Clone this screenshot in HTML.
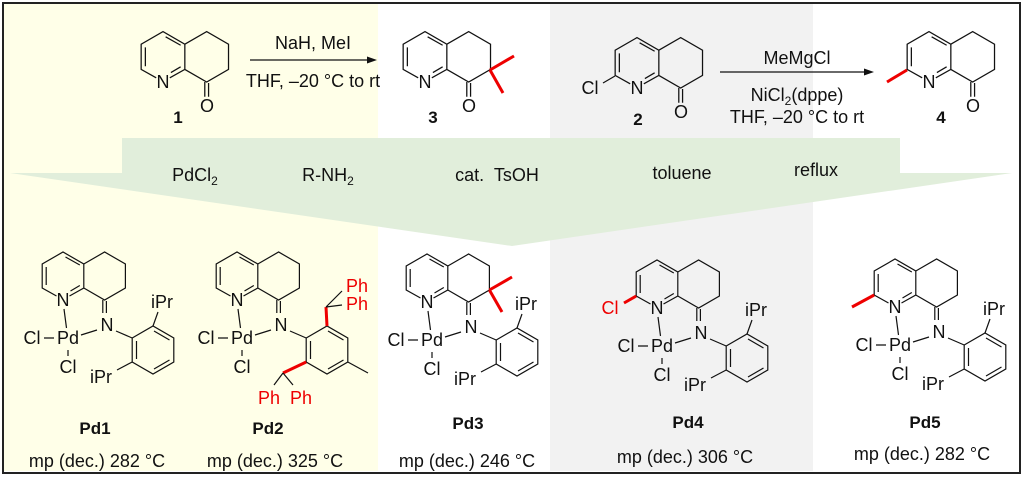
<!DOCTYPE html>
<html><head><meta charset="utf-8"><style>
html,body{margin:0;padding:0;background:#fff}
svg{display:block}
text{font-family:"Liberation Sans",Arial,sans-serif;font-size:18px;fill:#111}
.c{font-size:18px}
.b{font-weight:bold;font-size:17px}
.r{fill:#e00}
.m{text-anchor:middle}
</style></head><body>
<svg width="1024" height="479" viewBox="0 0 1024 479" xmlns="http://www.w3.org/2000/svg">
<defs>
<g id="bic" fill="none" stroke="#111" stroke-width="1.2">
<path d="M-6.5,-4 L-20.8,-12 L-20.8,-36 L0,-48 L20.8,-36 L20.8,-12 L6.5,-4"/>
<path d="M-16.8,-15 L-16.8,-33 M2.5,-43 L16.8,-35 M16.8,-14.5 L7.5,-9"/>
<path d="M20.8,-36 L41.6,-48 L62.4,-36 L62.4,-12 L41.6,0 L20.8,-12"/>
</g>
<g id="ko" fill="none" stroke="#111" stroke-width="1.2"><path d="M39.8,0 L39.8,14 M43.4,1 L43.4,14"/></g>
<g id="pdc" fill="none" stroke="#111" stroke-width="1.2">
<path d="M39.8,0 L39.8,13 M43.4,1 L43.4,13"/>
<path d="M1,9 L3.5,28 M-19,38 L-9,38 M5,50 L5,56 M18,35 L34,30 M53,31 L69.2,38"/>
<path d="M69.2,38 L90,26 L110.8,38 L110.8,62 L90,74 L69.2,62 Z"/>
<path d="M73.5,41 L73.5,59 M91,31 L106.5,40 M106.5,60 L91,69"/>
</g>
<g id="ipr" fill="none" stroke="#111" stroke-width="1.2"><path d="M90,26 L95,12 M69.2,62 L54,70"/></g>
</defs>
<rect x="4" y="4" width="374" height="467" fill="#ffffe8"/>
<rect x="550" y="4" width="263" height="467" fill="#f2f2f2"/>
<polygon points="122,138 900,138 900,173 1012,173 512,246 10,173 122,173" fill="#e1eedb"/>
<rect x="3" y="3" width="1017" height="470" fill="none" stroke="#222" stroke-width="2"/>

<g transform="translate(163,82) scale(1.05)"><use href="#bic"/><use href="#ko"/></g>
<text class="m" x="163" y="88">N</text><text class="m" x="207" y="112">O</text>
<text class="m b" x="178" y="123">1</text>
<line x1="250" y1="60" x2="370" y2="60" stroke="#111" stroke-width="1.2"/>
<polygon points="377,60 367,56.5 367,63.5" fill="#111"/>
<text class="m c" x="313" y="49">NaH, MeI</text>
<text class="m c" x="313" y="87">THF, –20 °C to rt</text>

<g transform="translate(425,82) scale(1.05)"><use href="#bic"/><use href="#ko"/></g>
<text class="m" x="425" y="88">N</text><text class="m" x="469" y="112">O</text>
<text class="m b" x="433" y="123">3</text>
<path d="M490,70 L514,56 M490,70 L503,93" stroke="#e00" stroke-width="3" fill="none"/>

<g transform="translate(637,88) scale(1.05)"><use href="#bic"/><use href="#ko"/></g>
<text class="m" x="637" y="94">N</text><text class="m" x="681" y="118">O</text>
<text class="m b" x="638" y="125">2</text>
<line x1="615" y1="76" x2="603" y2="83" stroke="#111" stroke-width="1.2"/>
<text class="m" x="590" y="94">Cl</text>
<line x1="720" y1="72" x2="867" y2="72" stroke="#111" stroke-width="1.2"/>
<polygon points="874,72 864,68.5 864,75.5" fill="#111"/>
<text class="m c" x="797" y="64">MeMgCl</text>
<text class="m c" x="797" y="101">NiCl<tspan font-size="12" dy="4">2</tspan><tspan dy="-4">(dppe)</tspan></text>
<text class="m c" x="797" y="123">THF, –20 °C to rt</text>

<g transform="translate(929,82) scale(1.05)"><use href="#bic"/><use href="#ko"/></g>
<text class="m" x="929" y="88">N</text><text class="m" x="973" y="112">O</text>
<text class="m b" x="941" y="123">4</text>
<line x1="907" y1="70" x2="887" y2="82" stroke="#e00" stroke-width="3"/>

<text class="m c" x="195" y="181">PdCl<tspan font-size="12" dy="4">2</tspan></text>
<text class="m c" x="328" y="181">R-NH<tspan font-size="12" dy="4">2</tspan></text>
<text class="m c" x="497" y="181">cat.&#160; TsOH</text>
<text class="m c" x="682" y="179">toluene</text>
<text class="m c" x="816" y="176">reflux</text>

<g transform="translate(63,300)">
<use href="#bic"/><use href="#pdc"/><use href="#ipr"/>
<text class="m" x="0" y="6">N</text><text class="m" x="44" y="31">N</text>
<text class="m" x="5" y="44">Pd</text><text class="m" x="-31" y="44">Cl</text><text class="m" x="5" y="73">Cl</text>
<text class="m" x="99" y="8">iPr</text><text class="m" x="38" y="83">iPr</text>
</g>
<text class="m b" x="95" y="434">Pd1</text>
<text class="m c" x="97" y="467">mp (dec.) 282 °C</text>

<g transform="translate(237,300)">
<use href="#bic"/><use href="#pdc"/>
<text class="m" x="0" y="6">N</text><text class="m" x="44" y="31">N</text>
<text class="m" x="5" y="44">Pd</text><text class="m" x="-31" y="44">Cl</text><text class="m" x="5" y="73">Cl</text>
<path d="M90,26 L89,7 M69.2,62 L46,73" stroke="#e00" stroke-width="3" fill="none"/>
<path d="M89,7 L105,-9 M89,7 L105,5 M46,73 L37,85 M46,73 L56,85" stroke="#111" stroke-width="1.2" fill="none"/>
<path d="M110.8,62 L131,73" stroke="#111" stroke-width="1.2"/>
<text class="m r" x="120" y="-8">Ph</text><text class="m r" x="120" y="10">Ph</text>
<text class="m r" x="32" y="104">Ph</text><text class="m r" x="64" y="104">Ph</text>
</g>
<text class="m b" x="268" y="434">Pd2</text>
<text class="m c" x="275" y="467">mp (dec.) 325 °C</text>

<g transform="translate(427,302)">
<use href="#bic"/><use href="#pdc"/><use href="#ipr"/>
<text class="m" x="0" y="6">N</text><text class="m" x="44" y="31">N</text>
<text class="m" x="5" y="44">Pd</text><text class="m" x="-31" y="44">Cl</text><text class="m" x="5" y="73">Cl</text>
<text class="m" x="99" y="8">iPr</text><text class="m" x="38" y="83">iPr</text>
<path d="M62.4,-12 L85,-25 M62.4,-12 L75,10" stroke="#e00" stroke-width="3" fill="none"/>
</g>
<text class="m b" x="468" y="429">Pd3</text>
<text class="m c" x="467" y="467">mp (dec.) 246 °C</text>

<g transform="translate(657,308)">
<use href="#bic"/><use href="#pdc"/><use href="#ipr"/>
<text class="m" x="0" y="6">N</text><text class="m" x="44" y="31">N</text>
<text class="m" x="5" y="44">Pd</text><text class="m" x="-31" y="44">Cl</text><text class="m" x="5" y="73">Cl</text>
<text class="m" x="99" y="8">iPr</text><text class="m" x="38" y="83">iPr</text>
<line x1="-20.8" y1="-12" x2="-33" y2="-5" stroke="#e00" stroke-width="3"/>
<text class="m r" x="-47" y="6">Cl</text>
</g>
<text class="m b" x="688" y="428">Pd4</text>
<text class="m c" x="685" y="463">mp (dec.) 306 °C</text>

<g transform="translate(895,307)">
<use href="#bic"/><use href="#pdc"/><use href="#ipr"/>
<text class="m" x="0" y="6">N</text><text class="m" x="44" y="31">N</text>
<text class="m" x="5" y="44">Pd</text><text class="m" x="-31" y="44">Cl</text><text class="m" x="5" y="73">Cl</text>
<text class="m" x="99" y="8">iPr</text><text class="m" x="38" y="83">iPr</text>
<line x1="-20.8" y1="-12" x2="-43" y2="0" stroke="#e00" stroke-width="3"/>
</g>
<text class="m b" x="925" y="428">Pd5</text>
<text class="m c" x="922" y="460">mp (dec.) 282 °C</text>
</svg>
</body></html>
